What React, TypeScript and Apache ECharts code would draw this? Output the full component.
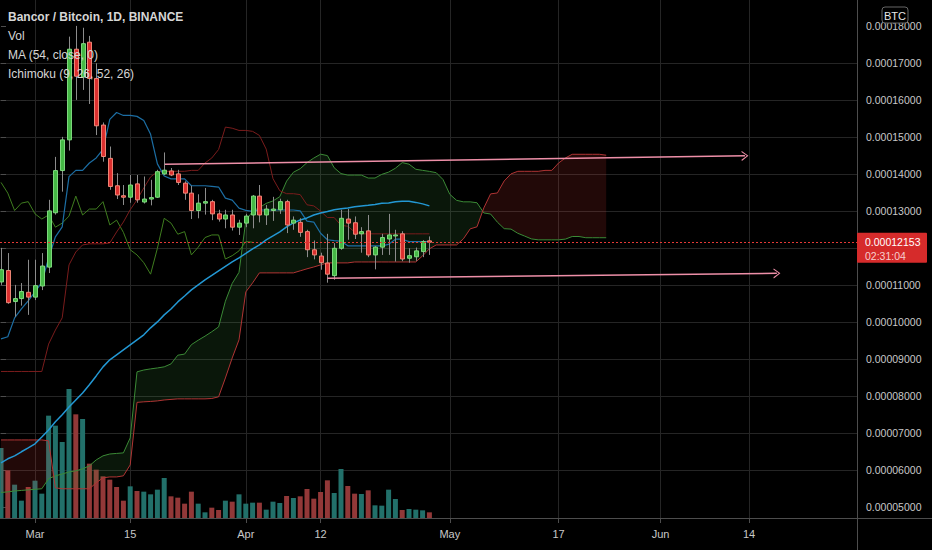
import React, { useEffect, useRef } from "react";
import * as echarts from "echarts";

// Prices in satoshi (1e-8 BTC). Bar 0 = 24 Feb, one bar per day.
const opens = [11080,11390,10550,10630,10800,10670,10970,11480,12950,14090,14920,17370,16620,17560,16580,15320,14420,13680,13410,13370,13730,13240,13320,13370,14000,14080,14000,13750,13480,13010,13210,13250,12920,12780,12890,12560,12670,12890,13400,12890,13010,13030,13250,12670,12690,12440,11950,11780,11590,11250,11990,12780,12680,12380,12460,11810,12020,12240,12330,12380,11720,11760,11900,12190];
const closes = [11410,10520,10630,10820,10670,10980,11510,13000,14090,14920,17370,16640,17520,16580,15300,14470,13660,13430,13370,13700,13300,13320,13360,14060,14100,13970,13770,13480,13010,13210,13250,12920,12780,12890,12560,12670,12860,13400,12890,13050,13050,13250,12620,12750,12420,11950,11810,11600,11290,11990,12800,12670,12370,12440,11810,12020,12280,12350,12350,11700,11790,11920,12170,12153];
const lows = [11000,10490,10140,10440,10190,10590,10860,11320,12900,13520,14630,16000,16270,15890,15050,14330,13570,13320,13160,13220,13220,13200,13150,13350,13970,13940,13700,13300,12780,12800,12900,12750,12710,12530,12470,12350,12560,12530,12690,12620,12730,12920,12400,12490,12300,11750,11690,11410,11060,11140,11950,12220,12240,11870,11750,11420,11810,11810,11630,11640,11600,11650,11750,11810];
const highs = [12000,11860,11000,11050,11680,11680,11860,13300,14460,15000,17710,18000,17950,17730,16990,15390,14740,14020,13700,13970,13970,13930,13840,14110,14580,14160,14110,13800,13680,13450,13620,13300,13030,13030,13030,12760,12920,13430,13700,13160,13380,13330,13300,12850,12800,12490,12200,11870,12380,12130,13030,13050,12850,12560,12890,12050,12380,12920,12490,12450,11990,12010,12210,12310];
const volumes = [210,143,100,52,93,112,73,307,277,228,387,311,297,163,145,125,115,93,52,95,81,79,71,85,120,65,61,43,79,43,17,31,24,52,49,71,43,46,46,25,49,45,66,60,65,87,58,78,113,75,147,96,73,72,83,38,37,85,57,24,27,25,23,17];

const ma54 = [6190,6300,6380,6490,6595,6705,6890,7080,7300,7490,7700,7890,8080,8300,8540,8785,8975,9110,9245,9380,9515,9650,9840,10000,10190,10350,10540,10700,10865,11000,11135,11255,11380,11500,11620,11730,11850,11975,12080,12215,12325,12435,12570,12675,12755,12810,12890,12945,12985,13030,13055,13080,13110,13135,13150,13175,13205,13215,13245,13260,13260,13230,13190,13135];
const conversionLine = [9540,9600,10110,10350,10570,10810,11070,11720,12300,12570,13925,14095,14095,14295,14430,14660,15475,15660,15580,15580,15555,15445,15070,14270,13945,13865,13865,13865,13680,13680,13680,13665,13645,13345,13290,13075,13015,12985,13025,13025,13025,13025,13025,13025,13000,12725,12695,12395,12220,12195,12180,12055,12055,12055,12055,12055,12055,12095,12235,12235,12170,12170,12170,12170];
const baseLine = [8660,8660,8660,8660,8660,8660,8660,9400,9780,10110,11540,11890,12080,12110,12110,12110,12135,12430,12700,13030,13300,13620,13920,14060,14070,14070,14070,14070,14095,14095,14295,14430,14660,15265,15235,15175,15175,15150,15040,14670,13870,13545,13465,13465,13440,13165,13135,12995,12820,12820,12610,12585,12430,12380,12380,12380,12380,12380,12380,12380,12380,12380,12380,12380];
const leadingSpanA = [5390,5405,5430,5445,5460,5475,5490,5760,5840,5890,5945,5975,6030,6110,6270,6380,6430,6445,6460,6865,8650,8700,8730,8755,8785,8865,
  9100,9130,9385,9505,9615,9735,9865,10560,11040,11340,12733,12993,13088,13203,13270,13385,13805,14045,14140,14305,14428,14533,14495,14165,14008,13968,13968,13968,13888,13888,13988,14048,14153,14305,14263,14125,14095,14068,14033,13848,13448,13285,13245,13245,13220,12945,12915,12695,12520,12508,12395,12320,12243,12218,12218,12218,12218,12238,12308,12308,12275,12275,12275,12275];
const leadingSpanB = [6810,6810,6810,6810,6810,6810,6810,6785,5515,5490,5490,5490,5490,5490,5650,5785,5810,5810,5840,6135,7825,7840,7850,7865,7890,7905,
  7920,7920,7920,7920,7920,7930,7975,8485,9025,9515,10810,11055,11325,11325,11325,11325,11325,11325,11380,11435,11485,11540,11595,11595,11595,11595,11620,11620,11620,11620,11620,11620,11620,11620,11620,11620,11785,11975,12080,12080,12080,12080,12245,12515,12570,13080,13460,13485,13810,14000,14070,14070,14070,14070,14095,14095,14295,14430,14530,14530,14530,14530,14530,14505];
const laggingShift = 26;

const xTickIndex = [5, 19, 36, 47, 66, 82, 97, 110];
const xTickLabels = ["Mar", "15", "Apr", "12", "May", "17", "Jun", "14"];
const priceTicks = [5000,6000,7000,8000,9000,10000,11000,12000,13000,14000,15000,16000,17000,18000];
const lastPrice = 12153;
const countdown = "02:31:04";
const upperTrend = [[24.1, 14258], [109.4, 14488]];
const lowerTrend = [[48.0, 11182], [114.1, 11312]];
const legendLines = ["Bancor / Bitcoin, 1D, BINANCE", "Vol", "MA (54, close, 0)", "Ichimoku (9, 26, 52, 26)"];
const quoteCurrency = "BTC";

const FONT = "Liberation Sans";
const fmt = (v: number) => (v / 1e8).toFixed(8);
// the last-price badge hides the axis label it sits on
const labelTicks = priceTicks.filter((v) => Math.abs(v - lastPrice) > 600);

function buildCloudRegions() {
  const A = leadingSpanA, B = leadingSpanB;
  const regions: { up: boolean; pts: number[][] }[] = [];
  let aSide: number[][] = [[0, A[0]]];
  let bSide: number[][] = [[0, B[0]]];
  let sign = A[0] >= B[0];
  for (let i = 1; i < A.length; i++) {
    const d0 = A[i - 1] - B[i - 1];
    const d1 = A[i] - B[i];
    if (d0 * d1 < 0) {
      const t = d0 / (d0 - d1);
      const xm = i - 1 + t;
      const ym = A[i - 1] + t * (A[i] - A[i - 1]);
      aSide.push([xm, ym]);
      regions.push({ up: sign, pts: [...aSide, ...bSide.slice().reverse()] });
      aSide = [[xm, ym]];
      bSide = [[xm, ym]];
      sign = d1 > 0;
    }
    aSide.push([i, A[i]]);
    bSide.push([i, B[i]]);
  }
  regions.push({ up: sign, pts: [...aSide, ...bSide.slice().reverse()] });
  return regions;
}

const lineSeries = (name: string, pts: number[][], color: string, width: number, z: number, extra: any = {}) => ({
  type: "line",
  name,
  data: pts,
  symbol: "none",
  showSymbol: false,
  silent: true,
  clip: true,
  z,
  lineStyle: { color, width },
  ...extra,
});

export default function App() {
  const ref = useRef<HTMLDivElement>(null);
  useEffect(() => {
    const el = ref.current!;
    const chart = echarts.init(el, null, { renderer: "svg" });
    const regions = buildCloudRegions();
    const candleData = opens.map((o, i) => [i, o, closes[i], lows[i], highs[i]]);
    const chevron = "path://M0,10 L5,0 L10,10 L8.8,10.6 L5,2.4 L1.2,10.6 Z";

    const option: any = {
      animation: false,
      backgroundColor: "#000000",
      textStyle: { fontFamily: FONT },
      grid: { left: 0, top: 0, width: 857, height: 518, containLabel: false, outerBoundsMode: "none" },
      xAxis: {
        type: "value",
        min: -1 / 6.8,
        max: 856 / 6.8,
        axisLine: { show: false },
        splitLine: { show: false },
        axisTick: { show: true, customValues: xTickIndex, length: 5, lineStyle: { color: "#4d4d4d" } },
        axisLabel: {
          customValues: xTickIndex,
          formatter: (v: number) => xTickLabels[xTickIndex.indexOf(v)] ?? "",
          color: "#c8c8c8",
          fontSize: 11,
          fontFamily: FONT,
          margin: 10,
        },
      },
      yAxis: [
        {
          type: "value",
          position: "right",
          min: 4700,
          max: 18700,
          splitNumber: 14,
          minInterval: 1000,
          maxInterval: 1000,
          axisLine: { show: false },
          axisTick: { show: true, customValues: priceTicks, length: 5, lineStyle: { color: "#4d4d4d" } },
          axisLabel: {
            customValues: labelTicks,
            formatter: (v: number) => fmt(v),
            color: "#c8c8c8",
            fontSize: 10.5,
            fontFamily: FONT,
            margin: 9,
          },
          splitLine: { show: true, showMinLine: false, showMaxLine: false, lineStyle: { color: "#252525", width: 1 } },
        },
        { type: "value", min: 0, max: 1554, show: false },
      ],
      series: [
        {
          type: "bar",
          yAxisIndex: 1,
          barWidth: 5,
          silent: true,
          z: 1,
          data: volumes.map((v, i) => ({
            value: [i, v],
            itemStyle: { color: closes[i] >= opens[i] ? "#22706a" : "#923838" },
          })),
          markLine: {
            silent: true,
            z: 0,
            symbol: ["none", "none"],
            label: { show: false },
            lineStyle: { color: "#252525", width: 1, type: "solid" },
            data: xTickIndex.map((v) => ({ xAxis: v })),
          },
        },
        {
          type: "custom",
          z: 2,
          silent: true,
          clip: true,
          encode: { x: 0, y: 1 },
          data: regions.map((r) => [r.pts[0][0], r.pts[0][1]]),
          renderItem: (params: any, api: any) => {
            const r = regions[params.dataIndex];
            return {
              type: "polygon",
              shape: { points: r.pts.map((p) => api.coord(p)) },
              style: { fill: r.up ? "rgba(76,175,80,0.13)" : "rgba(244,67,54,0.14)" },
            };
          },
        },
        lineSeries("Lead 1", leadingSpanA.map((v, i) => [i, v]), "#3b8a36", 1, 3),
        lineSeries("Lead 2", leadingSpanB.map((v, i) => [i, v]), "#b03434", 1, 3),
        lineSeries("Lagging", closes.slice(laggingShift).map((v, i) => [i, v]), "#3f7d1f", 1, 3),
        lineSeries("Base", baseLine.map((v, i) => [i, v]), "#7a1c1c", 1, 3),
        lineSeries("Conversion", conversionLine.map((v, i) => [i, v]), "#1c6ea4", 1.2, 3),
        lineSeries("MA", ma54.map((v, i) => [i, v]), "#2398d4", 1.5, 3, {
          markLine: {
            silent: true,
            z: 7,
            symbol: ["none", "none"],
            label: { show: false },
            lineStyle: { color: "#e53935", width: 1, type: [2, 2] },
            data: [{ yAxis: lastPrice }],
          },
        }),
        {
          type: "custom",
          z: 5,
          silent: true,
          clip: true,
          encode: { x: 0, y: [1, 2, 3, 4] },
          data: candleData,
          renderItem: (params: any, api: any) => {
            const x = api.value(0);
            const o = api.value(1), c = api.value(2), l = api.value(3), h = api.value(4);
            const pH = api.coord([x, h]);
            const pL = api.coord([x, l]);
            const pO = api.coord([x, o]);
            const pC = api.coord([x, c]);
            const w = api.size([1, 0])[0] * 0.58;
            const up = c >= o;
            const cx = Math.round(pH[0]) + 0.5;
            const top = Math.min(pO[1], pC[1]);
            const bh = Math.max(1, Math.abs(pO[1] - pC[1]));
            return {
              type: "group",
              children: [
                { type: "line", shape: { x1: cx, y1: pH[1], x2: cx, y2: pL[1] }, style: { stroke: "#8c8c8c", lineWidth: 1 } },
                {
                  type: "rect",
                  shape: { x: cx - w / 2, y: top, width: w, height: bh },
                  style: { fill: up ? "#45b845" : "#dc2f2f", stroke: up ? "#7fda7f" : "#f08878", lineWidth: 1 },
                },
              ],
            };
          },
        },
        {
          type: "line",
          data: [],
          silent: true,
          z: 6,
          markLine: {
            silent: true,
            z: 6,
            symbol: ["none", chevron],
            symbolSize: [10, 7],
            label: { show: false },
            lineStyle: { color: "#ee8fa8", width: 1.5, type: "solid" },
            data: [
              [{ coord: upperTrend[0] }, { coord: upperTrend[1] }],
              [{ coord: lowerTrend[0] }, { coord: lowerTrend[1] }],
            ],
          },
        },
      ],
    };
    chart.setOption(option);

    const yPx = chart.convertToPixel({ yAxisIndex: 0 }, lastPrice) as number;
    const graphics: any[] = [
      { type: "line", z: 50, silent: true, shape: { x1: 857.5, y1: 0, x2: 857.5, y2: 550 }, style: { stroke: "#4d4d4d", lineWidth: 1 } },
      { type: "line", z: 50, silent: true, shape: { x1: 0, y1: 518.5, x2: 932, y2: 518.5 }, style: { stroke: "#4d4d4d", lineWidth: 1 } },
      ...legendLines.map((t, i) => ({
        type: "text",
        z: 60,
        silent: true,
        x: 8,
        y: 17 + i * 19,
        style: {
          text: t,
          fill: "#d6d6d6",
          fontSize: 12,
          fontFamily: FONT,
          fontWeight: i === 0 ? "bold" : "normal",
          textVerticalAlign: "middle",
        },
      })),
      { type: "rect", z: 60, silent: true, shape: { x: 882, y: 7, width: 26, height: 16, r: 3 }, style: { fill: "#000", stroke: "#666", lineWidth: 1 } },
      { type: "text", z: 61, silent: true, x: 895, y: 15.5, style: { text: quoteCurrency, fill: "#e6e6e6", fontSize: 11, fontFamily: FONT, textAlign: "center", textVerticalAlign: "middle" } },
      { type: "rect", z: 60, silent: true, shape: { x: 857, y: yPx - 9.5, width: 70, height: 30, r: 1 }, style: { fill: "#d62b2b" } },
      { type: "text", z: 61, silent: true, x: 865, y: yPx, style: { text: fmt(lastPrice), fill: "#ffffff", fontSize: 10.5, fontFamily: FONT, textVerticalAlign: "middle" } },
      { type: "text", z: 61, silent: true, x: 865, y: yPx + 14, style: { text: countdown, fill: "#f7cfcf", fontSize: 10.5, fontFamily: FONT, textVerticalAlign: "middle" } },
    ];
    chart.setOption({ graphic: graphics });

    return () => chart.dispose();
  }, []);
  return <div ref={ref} style={{ position: "fixed", left: 0, top: 0, width: 932, height: 550, background: "#000" }} />;
}
